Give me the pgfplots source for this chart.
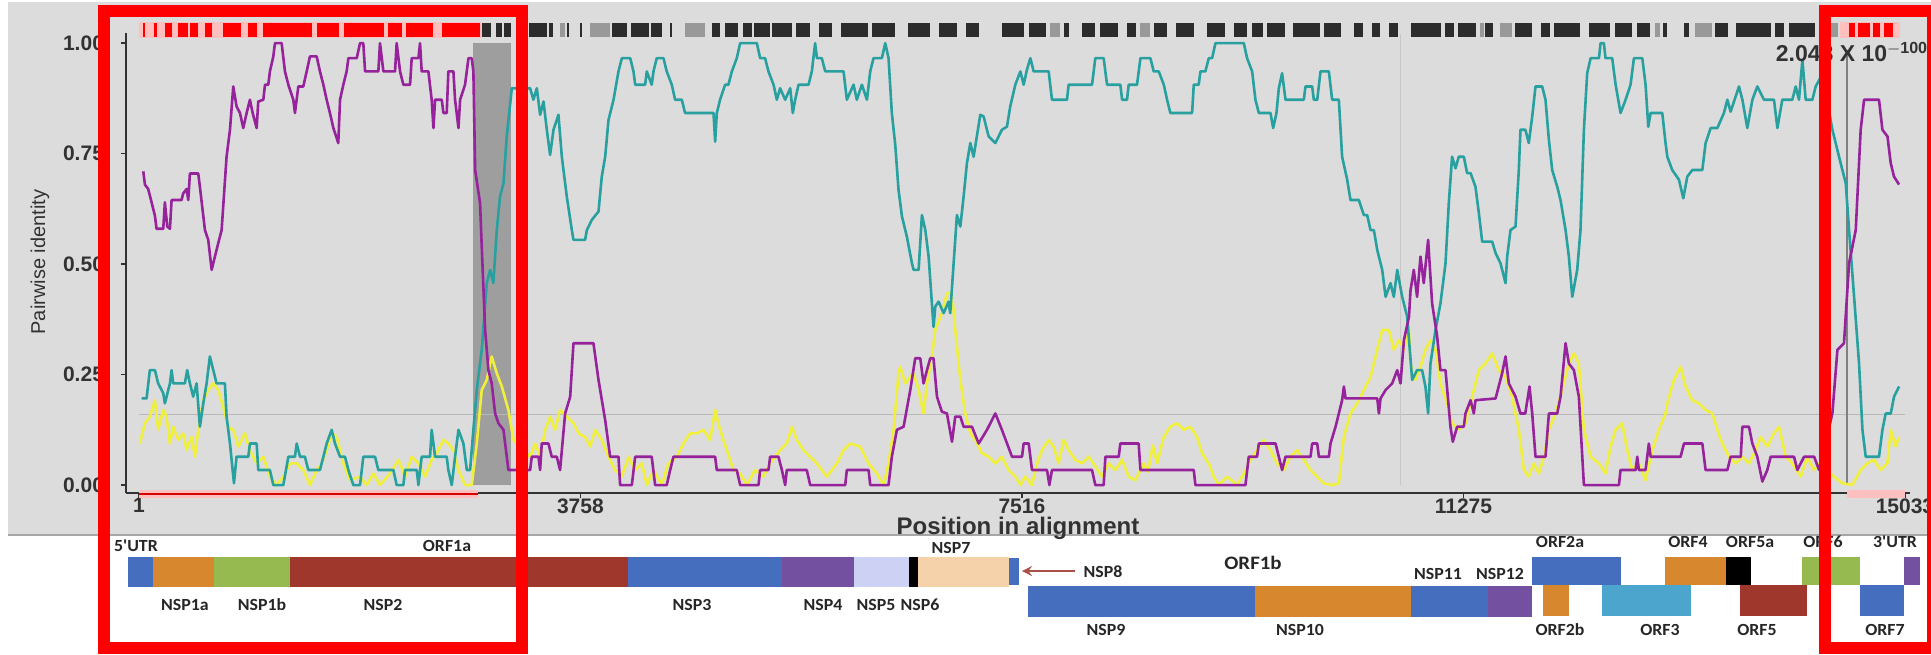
\documentclass[border=0pt]{standalone}
\usepackage{fontspec}
\setmainfont{Liberation Sans}
\newfontfamily\calfont{Carlito}
\usepackage{pgfplots}
\pgfplotsset{compat=1.18}

\definecolor{panel}{RGB}{220,220,220}
\definecolor{cpurple}{RGB}{150,35,155}
\definecolor{cteal}{RGB}{40,160,160}
\definecolor{cyellow}{RGB}{240,240,60}
\definecolor{axgray}{RGB}{50,50,50}
\definecolor{gblue}{RGB}{70,110,190}
\definecolor{gorange}{RGB}{215,135,45}
\definecolor{ggreen}{RGB}{150,185,80}
\definecolor{gred}{RGB}{160,55,45}
\definecolor{gpurple}{RGB}{115,80,160}
\definecolor{glav}{RGB}{205,210,245}
\definecolor{gpeach}{RGB}{245,210,170}
\definecolor{gaqua}{RGB}{75,165,205}
\definecolor{arrowc}{RGB}{170,80,70}

\newcommand\gbox[5]{\addplot[draw=none,fill=#5] coordinates {(#1,#3) (#2,#3) (#2,#4) (#1,#4)};}
\newcommand\glab[3]{\node[font=\calfont\bfseries\fontsize{8.5}{9}\selectfont, xscale=1.05, text=black!85] at (axis cs:#1,#2) {#3};}

\begin{document}
\begin{tikzpicture}
\useasboundingbox (0pt,0pt) rectangle (965.5pt,-327pt);
\fill[white] (0pt,0pt) rectangle (965.5pt,-327pt);
\fill[panel] (4pt,-1pt) rectangle (965.5pt,-267.5pt);
\draw[black!35, line width=0.6pt] (4pt,-267.5pt) -- (965.5pt,-267.5pt);

\begin{axis}[
 at={(63pt,-246.5pt)}, anchor=south west,
 scale only axis, width=892pt, height=230pt,
 xmin=-110, xmax=15076, ymin=-0.018, ymax=1.023,
 scaled x ticks=false, scaled y ticks=false,
 axis lines*=left, axis line style={axgray, line width=1pt},
 xtick={1,3758,7516,11275,15033}, xticklabels={1,3758,7516,11275,15033},
 ytick={0,0.25,0.5,0.75,1}, yticklabels={0.00,0.25,0.50,0.75,1.00},
 tick style={axgray, line width=0.8pt}, tick align=outside, major tick length=2.5pt,
 ticklabel style={font=\bfseries\fontsize{10.5}{12}\selectfont, text=axgray},
 xticklabel style={inner sep=0.5pt, yshift=0.5pt},
 yticklabel style={xshift=-5pt},
 xlabel={Position in alignment},
 xlabel style={font=\bfseries\fontsize{12}{14}\selectfont, text=axgray, inner sep=0pt, at={(axis description cs:0.5,-0.076)}, anchor=center},
 ylabel={Pairwise identity},
 ylabel style={font=\fontsize{10}{12}\selectfont, text=axgray, at={(axis description cs:-0.0482,0.502)}, anchor=center},
 clip=false,
]
% shaded breakpoint region
\addplot[draw=none, fill=black!38] coordinates {(2843,0) (3167,0) (3167,1) (2843,1)};
% reference lines
\addplot[black!28, line width=0.5pt] coordinates {(1,0.16) (15033,0.16)};
\addplot[black!22, line width=0.5pt] coordinates {(10739,0) (10739,1.02)};
\addplot[black!50, line width=1.1pt] coordinates {(14538,0) (14538,0.985)};

% yellow
\addplot[cyellow, line width=1.3pt, line join=round] coordinates {
(8,0.094)(51,0.140)(93,0.155)(136,0.192)(164,0.125)(207,0.170)(235,0.155)(264,0.094)(292,0.132)(335,0.102)(377,0.117)(406,0.079)(448,0.109)(477,0.064)(505,0.125)(548,0.192)(590,0.215)(633,0.230)(675,0.215)(718,0.177)(760,0.132)(803,0.125)(846,0.087)(902,0.117)(945,0.079)(1002,0.049)(1059,0.064)(1115,0.019)(1172,0)(1229,0.019)(1286,0.049)(1343,0.049)(1399,0.034)(1456,0)(1513,0.034)(1556,0.049)(1598,0.079)(1641,0.117)(1683,0.109)(1740,0.049)(1797,0.011)(1882,0.019)(1939,0)(1995,0.026)(2052,0)(2137,0.026)(2209,0.057)(2265,0.019)(2322,0.064)(2379,0.049)(2436,0.019)(2492,0.057)(2549,0.079)(2592,0.102)(2634,0.094)(2677,0.079)(2720,0.034)(2776,0)(2833,0)(2876,0.094)(2918,0.215)(2961,0.238)(3003,0.291)(3046,0.253)(3089,0.223)(3145,0.170)(3188,0.102)(3330,0.064)(3373,0.094)(3415,0.064)(3458,0.125)(3500,0.155)(3543,0.125)(3585,0.170)(3642,0.155)(3699,0.140)(3742,0.117)(3798,0.109)(3841,0.087)(3884,0.125)(3940,0.102)(3997,0.064)(4054,0.034)(4111,0.019)(4168,0.064)(4224,0.034)(4281,0.049)(4323,0)(4380,0.034)(4451,0)(4507,0.049)(4578,0.064)(4635,0.094)(4692,0.117)(4749,0.117)(4805,0.125)(4862,0.102)(4905,0.170)(4947,0.125)(5004,0.079)(5061,0.034)(5118,0.026)(5174,0)(5245,0.034)(5316,0.019)(5373,0.049)(5458,0.079)(5515,0.094)(5558,0.132)(5600,0.102)(5657,0.079)(5714,0.064)(5771,0.049)(5856,0.019)(5941,0.049)(5998,0.079)(6055,0.094)(6140,0.087)(6211,0.049)(6282,0.026)(6339,0)(6381,0.049)(6424,0.125)(6466,0.253)(6481,0.268)(6523,0.230)(6594,0.253)(6637,0.215)(6679,0.162)(6708,0.230)(6750,0.291)(6779,0.351)(6835,0.389)(6878,0.434)(6921,0.434)(6949,0.351)(6992,0.238)(7034,0.162)(7077,0.117)(7119,0.102)(7176,0.072)(7233,0.064)(7290,0.049)(7346,0.064)(7403,0.034)(7460,0.019)(7503,0)(7545,0.019)(7602,0)(7645,0.049)(7687,0.079)(7744,0.102)(7786,0.087)(7829,0.049)(7872,0.102)(7914,0.079)(7971,0.057)(8028,0.049)(8085,0.064)(8141,0.042)(8198,0.019)(8255,0.049)(8312,0.034)(8369,0.057)(8425,0.019)(8482,0.011)(8553,0.049)(8590,0.030)(8630,0.090)(8667,0.049)(8724,0.109)(8780,0.132)(8837,0.140)(8894,0.125)(8951,0.132)(9007,0.109)(9050,0.072)(9107,0.049)(9149,0.019)(9192,0)(9263,0.019)(9348,0)(9405,0.026)(9462,0.057)(9518,0.079)(9575,0.102)(9632,0.079)(9689,0.049)(9746,0.034)(9802,0.064)(9859,0.079)(9916,0.057)(9973,0.034)(10030,0.019)(10086,0.004)(10157,0)(10214,0.004)(10257,0.109)(10313,0.162)(10370,0.185)(10427,0.215)(10484,0.245)(10541,0.306)(10583,0.351)(10640,0.351)(10682,0.306)(10725,0.328)(10768,0.306)(10811,0.351)(10824,0.275)(10866,0.238)(10909,0.268)(10951,0.306)(10994,0.328)(11037,0.306)(11079,0.230)(11136,0.185)(11178,0.140)(11235,0.125)(11292,0.140)(11349,0.200)(11406,0.260)(11462,0.275)(11519,0.298)(11576,0.260)(11633,0.245)(11689,0.200)(11746,0.125)(11789,0.034)(11831,0.019)(11874,0.049)(11917,0.026)(11959,0.064)(12002,0.125)(12059,0.162)(12115,0.215)(12172,0.275)(12215,0.298)(12257,0.275)(12300,0.125)(12357,0.064)(12428,0.049)(12484,0.026)(12527,0.087)(12570,0.125)(12626,0.140)(12669,0.079)(12712,0.034)(12768,0.049)(12825,0.011)(12882,0.079)(12939,0.125)(12995,0.162)(13010,0.185)(13066,0.238)(13123,0.268)(13166,0.223)(13223,0.192)(13279,0.185)(13336,0.170)(13393,0.162)(13436,0.125)(13478,0.094)(13535,0.064)(13592,0.049)(13649,0.064)(13705,0.049)(13762,0.079)(13805,0.109)(13861,0.087)(13918,0.117)(13961,0.132)(14018,0.064)(14074,0.049)(14145,0.019)(14202,0.064)(14259,0.034)(14302,0.049)(14429,0.019)(14500,0.004)(14585,0)(14656,0.034)(14713,0.049)(14770,0.057)(14826,0.034)(14883,0.049)(14912,0.125)(14954,0.087)(14983,0.109)
};

% teal
\addplot[cteal, line width=1.3pt, line join=round] coordinates {
(22,0.196)(65,0.196)(93,0.26)(136,0.26)(164,0.23)(207,0.208)(221,0.185)(264,0.23)(278,0.26)(292,0.23)(391,0.23)(411,0.26)(434,0.23)(462,0.2)(491,0.23)(519,0.132)(548,0.185)(576,0.23)(604,0.291)(633,0.26)(661,0.23)(732,0.23)(746,0.155)(775,0.094)(809,0.004)(831,0.064)(931,0.064)(945,0.094)(1002,0.094)(1016,0.034)(1115,0.034)(1144,0)(1229,0)(1272,0.064)(1328,0.064)(1343,0.094)(1371,0.064)(1413,0.064)(1442,0.034)(1541,0.034)(1570,0.064)(1598,0.094)(1641,0.125)(1669,0.094)(1712,0.064)(1754,0.064)(1783,0.034)(1825,0)(1882,0)(1910,0.064)(2010,0.064)(2038,0.034)(2166,0.034)(2194,0)(2251,0)(2265,0.034)(2365,0.034)(2379,0)(2407,0.064)(2478,0.064)(2492,0.125)(2521,0.064)(2620,0.064)(2634,0.034)(2663,0)(2691,0.064)(2720,0.125)(2762,0.094)(2791,0.034)(2819,0.034)(2847,0.125)(2876,0.215)(2918,0.306)(2961,0.457)(2989,0.487)(3017,0.457)(3046,0.577)(3074,0.653)(3103,0.683)(3131,0.789)(3174,0.898)(3330,0.898)(3358,0.872)(3387,0.898)(3415,0.838)(3444,0.868)(3472,0.804)(3500,0.747)(3529,0.804)(3571,0.838)(3600,0.743)(3642,0.653)(3685,0.577)(3699,0.555)(3798,0.555)(3813,0.577)(3855,0.600)(3912,0.619)(3940,0.698)(3969,0.743)(3997,0.826)(4040,0.872)(4082,0.936)(4111,0.966)(4182,0.966)(4210,0.936)(4224,0.906)(4309,0.906)(4323,0.936)(4365,0.906)(4380,0.936)(4408,0.966)(4465,0.966)(4493,0.936)(4536,0.906)(4564,0.872)(4621,0.872)(4649,0.842)(4891,0.842)(4905,0.777)(4919,0.842)(4947,0.872)(4990,0.906)(5018,0.906)(5047,0.936)(5089,0.966)(5118,1)(5260,1)(5288,0.966)(5330,0.966)(5359,0.936)(5402,0.906)(5430,0.872)(5458,0.898)(5501,0.872)(5544,0.898)(5566,0.842)(5586,0.872)(5615,0.906)(5700,0.906)(5728,0.936)(5756,1)(5771,0.966)(5813,0.966)(5842,0.936)(5998,0.936)(6026,0.872)(6083,0.906)(6111,0.872)(6154,0.906)(6197,0.872)(6225,0.936)(6253,0.966)(6324,0.966)(6353,1)(6381,0.966)(6409,0.842)(6438,0.77)(6466,0.668)(6495,0.608)(6537,0.562)(6580,0.502)(6594,0.487)(6637,0.487)(6665,0.611)(6694,0.577)(6722,0.517)(6764,0.358)(6779,0.404)(6807,0.415)(6850,0.389)(6892,0.415)(6906,0.389)(6935,0.502)(6963,0.611)(6992,0.585)(7020,0.653)(7048,0.728)(7077,0.774)(7105,0.743)(7162,0.838)(7190,0.834)(7233,0.789)(7290,0.774)(7346,0.804)(7389,0.811)(7417,0.857)(7460,0.906)(7503,0.936)(7531,0.906)(7559,0.94)(7588,0.966)(7616,0.936)(7744,0.936)(7772,0.872)(7900,0.872)(7914,0.906)(8113,0.906)(8141,0.966)(8212,0.966)(8241,0.906)(8354,0.906)(8369,0.872)(8411,0.872)(8425,0.906)(8496,0.906)(8525,0.966)(8610,0.966)(8638,0.936)(8681,0.936)(8724,0.906)(8752,0.872)(8780,0.842)(8965,0.842)(8979,0.906)(9021,0.906)(9036,0.936)(9078,0.936)(9107,0.966)(9135,0.966)(9164,1)(9405,1)(9433,0.966)(9476,0.936)(9504,0.872)(9533,0.842)(9632,0.842)(9655,0.808)(9683,0.842)(9703,0.898)(9731,0.932)(9760,0.872)(9916,0.872)(9930,0.902)(9987,0.902)(10001,0.872)(10030,0.872)(10058,0.936)(10129,0.936)(10157,0.872)(10214,0.872)(10242,0.743)(10285,0.691)(10313,0.645)(10384,0.645)(10427,0.611)(10455,0.611)(10484,0.577)(10512,0.577)(10541,0.532)(10583,0.487)(10612,0.426)(10654,0.457)(10682,0.426)(10711,0.487)(10753,0.426)(10796,0.381)(10809,0.336)(10838,0.238)(10880,0.26)(10923,0.26)(10951,0.223)(10974,0.162)(10994,0.275)(11037,0.351)(11079,0.411)(11122,0.502)(11150,0.638)(11178,0.743)(11207,0.717)(11235,0.743)(11278,0.743)(11306,0.706)(11335,0.706)(11377,0.675)(11406,0.615)(11434,0.551)(11519,0.551)(11548,0.525)(11590,0.502)(11633,0.457)(11647,0.517)(11675,0.577)(11718,0.585)(11746,0.713)(11760,0.804)(11802,0.804)(11831,0.774)(11860,0.834)(11888,0.902)(11945,0.902)(11973,0.872)(12002,0.781)(12030,0.713)(12073,0.675)(12101,0.645)(12144,0.577)(12172,0.517)(12201,0.426)(12243,0.487)(12271,0.577)(12300,0.804)(12328,0.932)(12357,0.966)(12428,0.966)(12442,1)(12470,1)(12484,0.966)(12541,0.966)(12570,0.906)(12612,0.842)(12655,0.872)(12697,0.906)(12726,0.966)(12797,0.966)(12825,0.906)(12848,0.811)(12868,0.842)(12967,0.842)(12995,0.774)(13010,0.743)(13052,0.713)(13109,0.691)(13146,0.649)(13180,0.698)(13223,0.713)(13308,0.713)(13336,0.774)(13379,0.808)(13436,0.808)(13492,0.842)(13521,0.872)(13549,0.845)(13620,0.902)(13649,0.872)(13691,0.808)(13734,0.872)(13776,0.902)(13833,0.872)(13918,0.872)(13947,0.808)(13989,0.872)(14074,0.872)(14103,0.902)(14131,0.872)(14160,0.962)(14188,0.872)(14245,0.872)(14273,0.902)(14330,0.93)(14415,0.804)(14486,0.728)(14529,0.683)(14557,0.577)(14600,0.426)(14642,0.275)(14671,0.125)(14699,0.064)(14812,0.064)(14841,0.125)(14869,0.162)(14912,0.162)(14940,0.2)(14983,0.223)
};

% purple
\addplot[cpurple, line width=1.3pt, line join=round] coordinates {
(37,0.71)(51,0.68)(79,0.67)(136,0.61)(150,0.58)(207,0.58)(221,0.64)(241,0.585)(264,0.58)(278,0.645)(363,0.645)(377,0.66)(406,0.67)(420,0.645)(434,0.705)(505,0.705)(519,0.675)(562,0.577)(590,0.555)(619,0.487)(647,0.517)(675,0.547)(704,0.577)(746,0.743)(775,0.804)(803,0.902)(831,0.857)(860,0.842)(888,0.808)(917,0.842)(945,0.872)(968,0.842)(1002,0.808)(1016,0.868)(1059,0.872)(1073,0.906)(1101,0.906)(1115,0.936)(1144,0.97)(1158,1)(1215,1)(1243,0.936)(1272,0.906)(1314,0.872)(1328,0.842)(1357,0.902)(1399,0.902)(1428,0.936)(1456,0.97)(1513,0.97)(1541,0.936)(1570,0.906)(1598,0.872)(1626,0.842)(1655,0.808)(1697,0.774)(1712,0.872)(1740,0.906)(1768,0.936)(1783,0.966)(1854,0.966)(1882,1)(1910,1)(1925,0.936)(2038,0.936)(2052,1)(2081,0.936)(2180,0.936)(2194,1)(2223,0.936)(2251,0.906)(2308,0.906)(2322,0.966)(2379,0.966)(2393,1)(2407,0.936)(2464,0.936)(2492,0.872)(2507,0.808)(2521,0.872)(2578,0.872)(2592,0.842)(2620,0.842)(2634,0.936)(2677,0.936)(2691,0.872)(2720,0.808)(2734,0.872)(2776,0.906)(2805,0.966)(2833,0.966)(2847,0.936)(2862,0.713)(2904,0.638)(2918,0.54)(2947,0.351)(2975,0.26)(3003,0.23)(3032,0.162)(3060,0.14)(3103,0.125)(3145,0.034)(3188,0.034)(3330,0.034)(3344,0.064)(3401,0.064)(3415,0.034)(3429,0.094)(3486,0.094)(3514,0.064)(3557,0.064)(3585,0.034)(3628,0.162)(3671,0.2)(3699,0.321)(3869,0.321)(3912,0.238)(3969,0.147)(4011,0.064)(4082,0.064)(4096,0)(4196,0)(4224,0.064)(4365,0.064)(4394,0)(4493,0)(4522,0.034)(4550,0.064)(4905,0.064)(4919,0.034)(5089,0.034)(5118,0)(5274,0)(5288,0.034)(5359,0.034)(5373,0.064)(5444,0.064)(5473,0.034)(5501,0)(5515,0.034)(5685,0.034)(5714,0)(6012,0)(6026,0.034)(6211,0.034)(6225,0)(6381,0)(6409,0.064)(6452,0.125)(6509,0.132)(6566,0.215)(6608,0.287)(6651,0.287)(6679,0.23)(6708,0.26)(6736,0.287)(6764,0.287)(6793,0.2)(6835,0.166)(6878,0.162)(6921,0.098)(6949,0.155)(6992,0.155)(7020,0.132)(7091,0.132)(7148,0.094)(7219,0.125)(7290,0.162)(7346,0.125)(7432,0.064)(7517,0.064)(7531,0.094)(7574,0.094)(7602,0.034)(7730,0.034)(7750,0)(7772,0.034)(8113,0.034)(8141,0)(8212,0)(8227,0.064)(8340,0.064)(8354,0.094)(8510,0.094)(8525,0.034)(8979,0.034)(8993,0)(9419,0)(9447,0.064)(9518,0.064)(9533,0.094)(9675,0.094)(9703,0.064)(9731,0.034)(9760,0.064)(9973,0.064)(9987,0.094)(10030,0.094)(10044,0.064)(10129,0.064)(10143,0.094)(10186,0.132)(10242,0.192)(10257,0.223)(10271,0.196)(10541,0.196)(10555,0.162)(10569,0.196)(10612,0.215)(10668,0.23)(10711,0.26)(10739,0.23)(10768,0.328)(10811,0.381)(10824,0.44)(10852,0.487)(10880,0.426)(10909,0.517)(10937,0.457)(10974,0.555)(11008,0.411)(11051,0.336)(11079,0.26)(11122,0.26)(11164,0.132)(11184,0.098)(11221,0.132)(11278,0.132)(11292,0.162)(11335,0.192)(11363,0.162)(11377,0.192)(11548,0.196)(11604,0.253)(11633,0.291)(11661,0.23)(11718,0.2)(11760,0.162)(11801,0.162)(11837,0.223)(11860,0.162)(11888,0.064)(11973,0.064)(12002,0.162)(12073,0.162)(12101,0.2)(12144,0.321)(12172,0.275)(12215,0.26)(12257,0.2)(12300,0)(12598,0)(12612,0.034)(12740,0.034)(12754,0.064)(12768,0.034)(12825,0.034)(12853,0.094)(12868,0.064)(13123,0.064)(13152,0.094)(13308,0.094)(13336,0.034)(13521,0.034)(13549,0.064)(13635,0.064)(13649,0.132)(13705,0.132)(13734,0.094)(13776,0.064)(13819,0.008)(13861,0.034)(13890,0.064)(14089,0.064)(14117,0.034)(14174,0.064)(14260,0.064)(14302,0.034)(14415,0.162)(14458,0.306)(14514,0.321)(14557,0.502)(14614,0.577)(14656,0.804)(14685,0.872)(14812,0.872)(14841,0.804)(14884,0.789)(14912,0.728)(14940,0.698)(14983,0.68)
};
\end{axis}

% overlay in pixel units: sequence bar and genome map
\begin{axis}[
 at={(0pt,-327pt)}, anchor=south west,
 scale only axis, width=965.5pt, height=327pt,
 xmin=0, xmax=1931, ymin=0, ymax=654, y dir=reverse,
 hide axis, clip=false, scaled ticks=false,
]
% pink highlights
\addplot[red!25, line width=8pt] coordinates {(139,30) (482,30)};
\addplot[red!25, line width=8pt] coordinates {(1840,30) (1900,30)};
\addplot[red!25, line width=4pt] coordinates {(139,494) (478,494)};
\addplot[red!25, line width=4pt] coordinates {(1847,494) (1905,494)};
\addplot[red!85!black, line width=0.8pt] coordinates {(139,494) (478,494)};
% red sites
\addplot[red, line width=7pt, unbounded coords=jump] coordinates {
(143,30)(145,30)(0,nan)(154,30)(157,30)(0,nan)(165,30)(172,30)(0,nan)(178,30)(188,30)(0,nan)(190,30)(198,30)(0,nan)(205,30)(212,30)(0,nan)(223,30)(241,30)(0,nan)(248,30)(257,30)(0,nan)(263,30)(312,30)(0,nan)(317,30)(339,30)(0,nan)(344,30)(384,30)(0,nan)(388,30)(402,30)(0,nan)(406,30)(433,30)(0,nan)(442,30)(480,30)(0,nan)
(1849,30)(1855,30)(0,nan)(1858,30)(1870,30)(0,nan)(1873,30)(1880,30)(0,nan)(1884,30)(1893,30)
};
% grey sites
\addplot[black!40, line width=7pt, unbounded coords=jump] coordinates {
(560,30)(565,30)(0,nan)(590,30)(610,30)(0,nan)(685,30)(705,30)(0,nan)(1050,30)(1060,30)(0,nan)(1140,30)(1150,30)(0,nan)(1480,30)(1484,30)(0,nan)(1500,30)(1512,30)(0,nan)(1655,30)(1660,30)(0,nan)(1695,30)(1712,30)(0,nan)(1820,30)(1838,30)
};
% black sites
\addplot[black, opacity=0.8, line width=7pt, unbounded coords=jump] coordinates {
(482,30)(491,30)(0,nan)(496,30)(502,30)(0,nan)(504,30)(511,30)(0,nan)(529,30)(547,30)(0,nan)(549,30)(553,30)(0,nan)(567,30)(569,30)(0,nan)(580,30)(582,30)(0,nan)(612,30)(627,30)(0,nan)(631,30)(649,30)(0,nan)(651,30)(662,30)(0,nan)(670,30)(672,30)(0,nan)(712,30)(720,30)(0,nan)(725,30)(738,30)(0,nan)(743,30)(752,30)(0,nan)(754,30)(770,30)(0,nan)(772,30)(792,30)(0,nan)(796,30)(810,30)(0,nan)(819,30)(832,30)(0,nan)(841,30)(868,30)(0,nan)(872,30)(895,30)(0,nan)(908,30)(930,30)(0,nan)(939,30)(957,30)(0,nan)(966,30)(979,30)(0,nan)(1002,30)(1024,30)(0,nan)(1029,30)(1046,30)(0,nan)(1064,30)(1069,30)(0,nan)(1082,30)(1095,30)(0,nan)(1100,30)(1118,30)(0,nan)(1127,30)(1136,30)(0,nan)(1154,30)(1167,30)(0,nan)(1176,30)(1194,30)(0,nan)(1207,30)(1225,30)(0,nan)(1234,30)(1247,30)(0,nan)(1252,30)(1263,30)(0,nan)(1267,30)(1285,30)(0,nan)(1293,30)(1320,30)(0,nan)(1324,30)(1341,30)(0,nan)(1354,30)(1363,30)(0,nan)(1372,30)(1380,30)(0,nan)(1389,30)(1398,30)(0,nan)(1411,30)(1441,30)(0,nan)(1445,30)(1454,30)(0,nan)(1458,30)(1476,30)(0,nan)(1485,30)(1493,30)(0,nan)(1515,30)(1532,30)(0,nan)(1541,30)(1550,30)(0,nan)(1554,30)(1580,30)(0,nan)(1589,30)(1610,30)(0,nan)(1615,30)(1632,30)(0,nan)(1637,30)(1650,30)(0,nan)(1663,30)(1667,30)(0,nan)(1684,30)(1689,30)(0,nan)(1715,30)(1728,30)(0,nan)(1736,30)(1771,30)(0,nan)(1775,30)(1784,30)(0,nan)(1789,30)(1815,30)
};
\node[font=\bfseries\fontsize{11.5}{13}\selectfont, text=axgray] at (axis cs:1852,52) {2.048 X 10$^{\mathbf{-100}}$};

% genome map, ORF1a row
\gbox{128}{153}{557}{587}{gblue}
\gbox{153}{214}{557}{587}{gorange}
\gbox{214}{290}{557}{587}{ggreen}
\gbox{290}{628}{557}{587}{gred}
\gbox{628}{782}{557}{587}{gblue}
\gbox{782}{854}{557}{587}{gpurple}
\gbox{854}{909}{557}{587}{glav}
\gbox{909}{918}{557}{587}{black}
\gbox{918}{1009}{557}{587}{gpeach}
\gbox{1009}{1019}{558}{585}{gblue}
% ORF1b row
\gbox{1028}{1255}{586}{617}{gblue}
\gbox{1255}{1411}{586}{617}{gorange}
\gbox{1411}{1488}{586}{617}{gblue}
\gbox{1488}{1532}{586}{617}{gpurple}
% downstream ORFs
\gbox{1532}{1621}{557}{585}{gblue}
\gbox{1665}{1726}{557}{585}{gorange}
\gbox{1726}{1751}{557}{585}{black}
\gbox{1802}{1860}{557}{585}{ggreen}
\gbox{1904}{1920}{557}{585}{gpurple}
\gbox{1543}{1569}{585}{616}{gorange}
\gbox{1602}{1691}{585}{616}{gaqua}
\gbox{1740}{1807}{585}{616}{gred}
\gbox{1860}{1904}{585}{616}{gblue}
\draw[arrowc, line width=1.2pt, -stealth] (axis cs:1075,571) -- (axis cs:1022,571);

\glab{136}{546}{5'UTR}
\glab{447}{546}{ORF1a}
\glab{951}{548}{NSP7}
\glab{1560}{542}{ORF2a}
\glab{1688}{542}{ORF4}
\glab{1750}{542}{ORF5a}
\glab{1823}{542}{ORF6}
\glab{1895}{542}{3'UTR}
\glab{1103}{572}{NSP8}
\node[font=\calfont\bfseries\fontsize{9.5}{10}\selectfont, xscale=1.1, text=black!85] at (axis cs:1253,563) {ORF1b};
\glab{1438}{574}{NSP11}
\glab{1500}{574}{NSP12}
\glab{185}{605}{NSP1a}
\glab{262}{605}{NSP1b}
\glab{383}{605}{NSP2}
\glab{692}{605}{NSP3}
\glab{823}{605}{NSP4}
\glab{876}{605}{NSP5}
\glab{920}{605}{NSP6}
\glab{1106}{630}{NSP9}
\glab{1300}{630}{NSP10}
\glab{1560}{630}{ORF2b}
\glab{1660}{630}{ORF3}
\glab{1757}{630}{ORF5}
\glab{1885}{630}{ORF7}
\end{axis}

% red highlight frames
\draw[red, line width=6pt] (52pt,-5.5pt) rectangle (261pt,-324pt);
\draw[red, line width=6pt] (912.5pt,-5.5pt) rectangle (966.5pt,-324pt);
\end{tikzpicture}
\end{document}
